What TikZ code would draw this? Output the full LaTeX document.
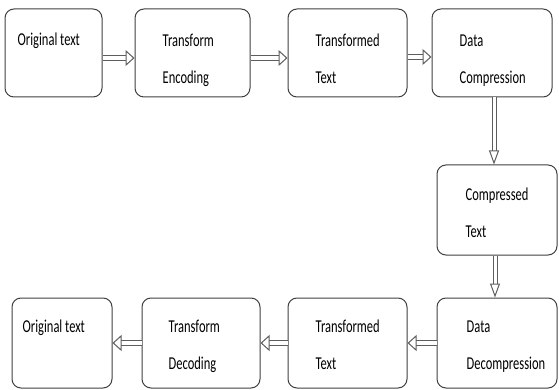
\documentclass[tikz,border=0pt]{standalone}
\usepackage{fontspec}
\setmainfont{Carlito}
\usetikzlibrary{arrows.meta}
\definecolor{boxline}{HTML}{404040}
\tikzset{%
    stage/.style={draw=boxline, line width=1pt, rounded corners=9pt, fill=white},
    stagetext/.style={anchor=base west, inner sep=0pt, align=left, yscale=1.45,
        font=\fontsize{12.5}{25.5}\selectfont},
    hollow/.style={draw=boxline!85, line width=1pt, double, double distance=4pt,
        -{Triangle[open, length=9pt, width=16pt]}},
    hollowv/.style={draw=boxline!85, line width=1pt, double, double distance=3pt,
        -{Triangle[open, length=14pt, width=10pt]}}
}

\begin{document}
\begin{tikzpicture}[x=1pt, y=-1pt]
        \useasboundingbox (0,0) rectangle (559,390);

        % top row
        \node[stage, minimum width=97pt, minimum height=88pt] (orig1) at (53.5,53) {};
        \node[stage, minimum width=115pt, minimum height=88pt] (enc) at (192.5,53) {};
        \node[stage, minimum width=119pt, minimum height=88pt] (ttext1) at (347.5,53) {};
        \node[stage, minimum width=120pt, minimum height=88pt] (comp) at (492,53) {};

        % right column
        \node[stage, minimum width=120pt, minimum height=90pt] (ctext) at (497,210) {};

        % bottom row
        \node[stage, minimum width=120pt, minimum height=90pt] (decomp) at (497,343) {};
        \node[stage, minimum width=119pt, minimum height=90pt] (ttext2) at (347.5,343) {};
        \node[stage, minimum width=118pt, minimum height=90pt] (dec) at (201,343) {};
        \node[stage, minimum width=100pt, minimum height=90pt] (orig2) at (62,343) {};

        % texts (base = last line)
        \node[stagetext] (orig1txt) at ([shift={(13,37)}]orig1.north west) {Original text};
        \node[stagetext] (enctxt) at ([shift={(28,75)}]enc.north west) {Transform\\Encoding};
        \node[stagetext] (ttext1txt) at ([shift={(28,75)}]ttext1.north west) {Transformed\\Text};
        \node[stagetext] (comptxt) at ([shift={(28,75)}]comp.north west) {Data\\Compression};
        \node[stagetext] (ctexttxt) at ([shift={(29,73)}]ctext.north west) {Compressed\\Text};
        \node[stagetext] (decomptxt) at ([shift={(30,72)}]decomp.north west) {Data\\Decompression};
        \node[stagetext] (ttext2txt) at ([shift={(28,72)}]ttext2.north west) {Transformed\\Text};
        \node[stagetext] (dectxt) at ([shift={(27,72)}]dec.north west) {Transform\\Decoding};
        \node[stagetext] (orig2txt) at ([shift={(11,35)}]orig2.north west) {Original text};

        % arrows
        \draw[hollow] ([yshift=-5pt]orig1.east) -- ([yshift=-5pt]enc.west);
        \draw[hollow] ([yshift=-5pt]enc.east) -- ([yshift=-5pt]ttext1.west);
        \draw[hollow] ([yshift=-4pt]ttext1.east) -- ([yshift=-4pt]comp.west);
        \draw[hollowv] ([xshift=2pt]comp.south) -- ([xshift=2pt]comp.south |- ctext.north);
        \draw[hollowv] ([xshift=-2pt]ctext.south) -- ([xshift=-2pt]ctext.south |- decomp.north);
        \draw[hollow] (decomp.west) -- (ttext2.east);
        \draw[hollow] (ttext2.west) -- (dec.east);
        \draw[hollow] (dec.west) -- (orig2.east);
    \end{tikzpicture}
\end{document}
